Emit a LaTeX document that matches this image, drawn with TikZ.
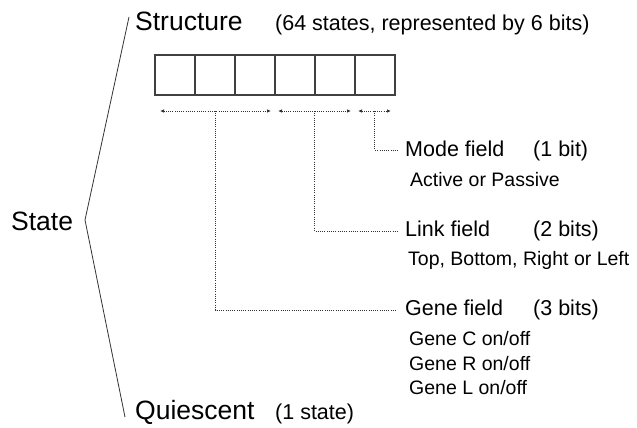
\documentclass[tikz,border=0pt]{standalone}
\usepackage{fontspec}
\setmainfont{Liberation Sans}
\usetikzlibrary{arrows.meta,calc}

\newcommand{\bigtxt}{\fontsize{26.5}{30}\selectfont}
\newcommand{\midtxt}{\fontsize{21.5}{26}\selectfont}
\newcommand{\smalltxt}{\fontsize{19.5}{24}\selectfont}

\begin{document}
\begin{tikzpicture}[x=1pt,y=-1pt,
  txt/.style={inner sep=0pt,anchor=base west},
  cell/.style={draw=black!75,line width=1.5pt,minimum size=40pt,inner sep=0pt},
  span/.style={black!80,dash pattern=on 1pt off 1.2pt,line width=0.8pt,{Latex[length=4pt,width=3.5pt]}-{Latex[length=4pt,width=3.5pt]}},
  lead/.style={black!80,dash pattern=on 1pt off 1.2pt,line width=0.8pt}]
 \useasboundingbox (0,0) rectangle (637,428);
 % brace
 \node[txt] (state) at (11,230) {\bigtxt State};
 \coordinate (top) at (129,17);
 \coordinate (apex) at (85,220);
 \coordinate (bot) at (125,417);
 \draw[line width=0.8pt,black!80] (top) -- (apex) -- (bot);
 % headings
 \node[txt] (structure) at (135,31) {\bigtxt Structure};
 \node[txt] (structnote) at (275,31) {\midtxt (64 states, represented by 6 bits)};
 \node[txt] (quiescent) at (135,419) {\bigtxt Quiescent};
 \node[txt] (quiesnote) at (275,419) {\midtxt (1 state)};
 % 6 bits
 \foreach \i in {1,...,6}
   \node[cell] (c\i) at ({135+40*\i},75) {};
 % field spans
 \coordinate (g1) at (160,111); \coordinate (g2) at (271,111);
 \coordinate (l1) at (278,111); \coordinate (l2) at (351,111);
 \coordinate (m1) at (358,111); \coordinate (m2) at (391,111);
 \draw[span] (g1) -- (g2);
 \draw[span] (l1) -- (l2);
 \draw[span] (m1) -- (m2);
 % fields
 \node[txt] (mode) at (405,156) {\midtxt Mode field};
 \node[txt] (modebits) at (533,156) {\midtxt (1 bit)};
 \node[txt] (modedesc) at (410,186) {\smalltxt Active or Passive};
 \node[txt] (link) at (405,236) {\midtxt Link field};
 \node[txt] (linkbits) at (533,236) {\midtxt (2 bits)};
 \node[txt] (linkdesc) at (408,265) {\smalltxt Top, Bottom, Right or Left};
 \node[txt] (gene) at (405,315) {\midtxt Gene field};
 \node[txt] (genebits) at (533,315) {\midtxt (3 bits)};
 \node[txt] (genec) at (409,345) {\smalltxt Gene C on/off};
 \node[txt] (gener) at (409,370) {\smalltxt Gene R on/off};
 \node[txt] (genel) at (409,394) {\smalltxt Gene L on/off};
 % leaders
 \draw[lead] ($(m1)!0.5!(m2)$) |- ([xshift=-7pt,yshift=6pt]mode.base west);
 \draw[lead] ($(l1)!0.5!(l2)$) |- ([xshift=-7pt,yshift=5pt]link.base west);
 \draw[lead] ($(g1)!0.5!(g2)$) |- ([xshift=-8pt,yshift=5pt]gene.base west);
\end{tikzpicture}
\end{document}
